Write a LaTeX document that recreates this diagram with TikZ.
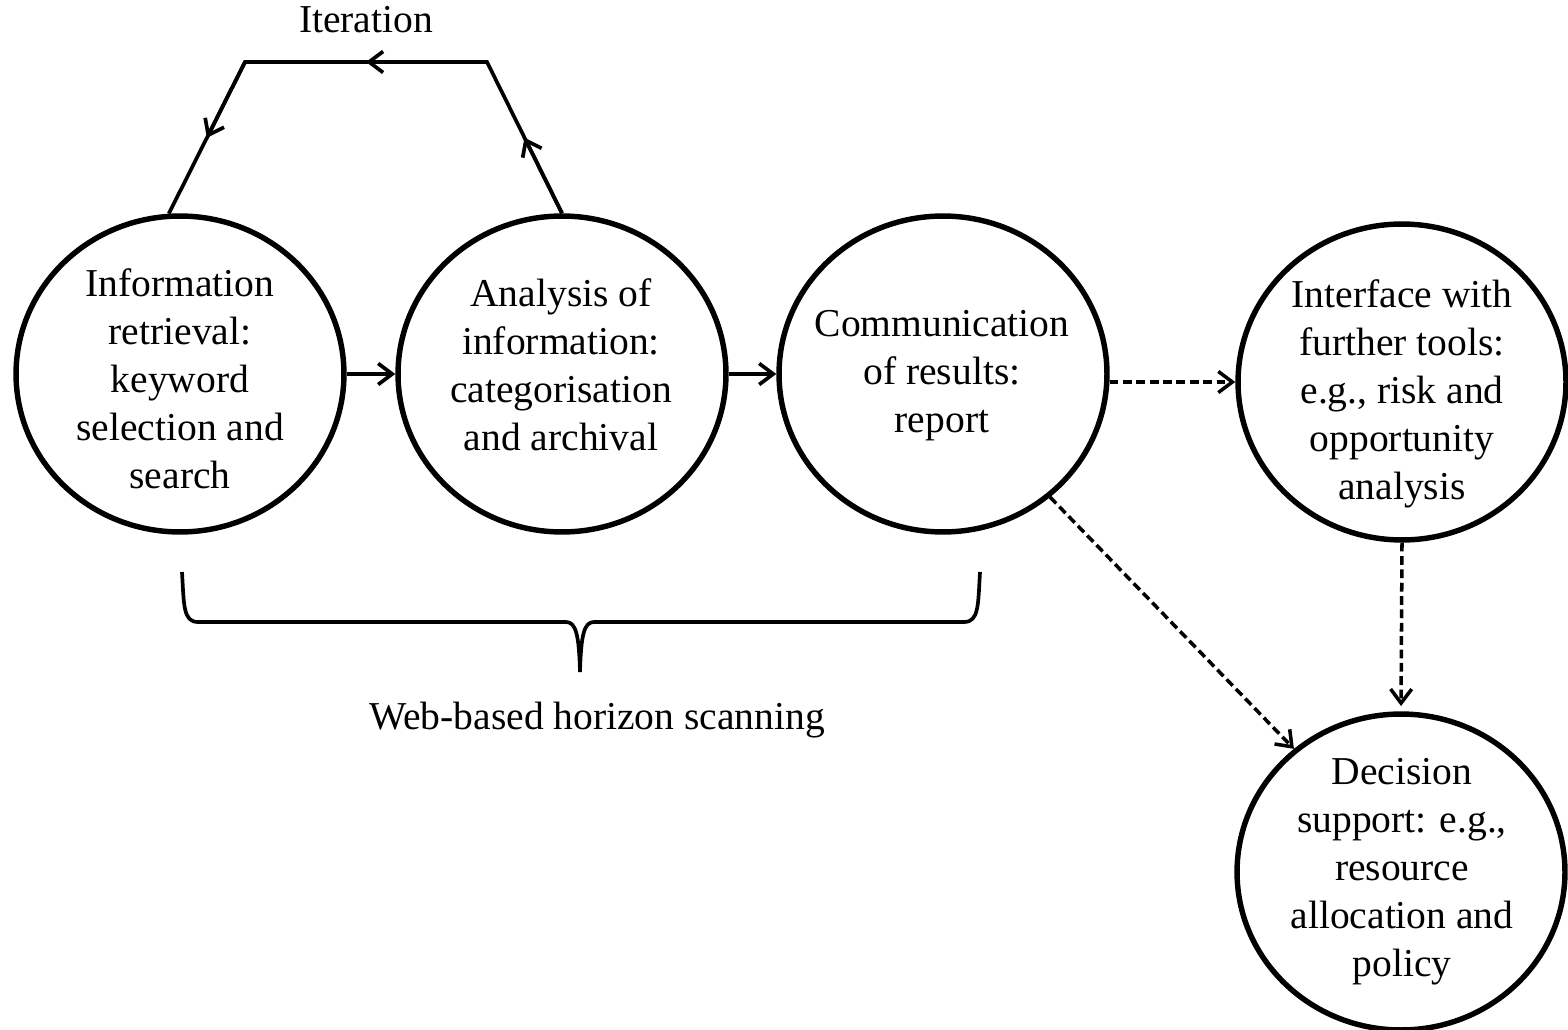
\documentclass[tikz,border=0pt]{standalone}
\usepackage{fontspec}
\setmainfont{Liberation Serif}
\usetikzlibrary{arrows.meta,shapes.geometric,calc}
\begin{document}
\begin{tikzpicture}[x=0.02cm,y=-0.02cm,
  bubble/.style={draw, ellipse, line width=3.1pt, minimum width=6.56cm, minimum height=6.32cm, inner sep=0pt},
  txt/.style={align=center, inner sep=0pt, font=\fontsize{22.5pt}{27.3pt}\selectfont},
  conn/.style={line width=2.1pt, -{Straight Barb[length=8pt,width=12pt]}},
  dconn/.style={line width=2pt, dash pattern=on 5pt off 2.6pt, -{Straight Barb[length=8pt,width=12pt]}},
  plain/.style={line width=2.1pt}
]
\useasboundingbox (0,0) rectangle (1568,1030);

% circles
\node[bubble] (c1) at (180,374) {};
\node[bubble] (c2) at (562,374) {};
\node[bubble] (c3) at (943,374) {};
\node[bubble] (c4) at (1402,382) {};
\node[bubble] (c5) at (1401,872) {};

% texts
\node[txt] (t1) at (180,383) {\strut Information\\retrieval:\\keyword\\selection and\\search\strut};
\node[txt] (t2) at (561,369) {\strut Analysis of\\information:\\categorisation\\and archival\strut};
\node[txt] (t3) at (942,375) {\strut Communication\\of results:\\report\strut};
\node[txt] (t4) at (1402,394) {\strut Interface with\\further tools:\\e.g., risk and\\opportunity\\analysis\strut};
\node[txt] (t5) at (1402,871) {\strut Decision\\support: e.g.,\\resource\\allocation and\\policy\strut};

\node[txt, anchor=base] (iter) at (366,33) {Iteration};
\node[txt, anchor=base] (web) at (597,729) {Web-based horizon scanning};

% main flow
\draw[conn] (c1.east) -- (c2.west);
\draw[conn] (c2.east) -- (c3.west);
\draw[dconn] (c4.west -| c3.east) -- (c4.west);
\draw[dconn] (c3.-49.5) -- (c5.131);
\draw[dconn, shorten >=3pt] (c4.south) -- (c5.north);

% iteration loop
\coordinate (itr) at (487,62);
\coordinate (itl) at (245,62);
\coordinate (m1) at ($(c2.north)!0.5!(itr)$);
\coordinate (m2) at ($(itr)!0.5!(itl)$);
\coordinate (m3) at ($(itl)!0.5!(c1.94)$);
\draw[plain] (c2.north) -- (itr) -- (itl) -- (c1.94);
\draw[conn] (c2.north) -- (m1);
\draw[conn] (itr) -- (m2);
\draw[conn] (itl) -- (m3);

% brace
\coordinate (bl) at (182,572);
\coordinate (br) at (980,572);
\coordinate (bt) at (580,672);
\draw[plain, line join=round] (bl) .. controls (184,605) and (183,622) .. (198,622) -- (566,622) .. controls (576,622) and (579,635) .. (bt);
\draw[plain, line join=round] (br) .. controls (978,605) and (979,622) .. (964,622) -- (594,622) .. controls (584,622) and (581,635) .. (bt);
\end{tikzpicture}
\end{document}
